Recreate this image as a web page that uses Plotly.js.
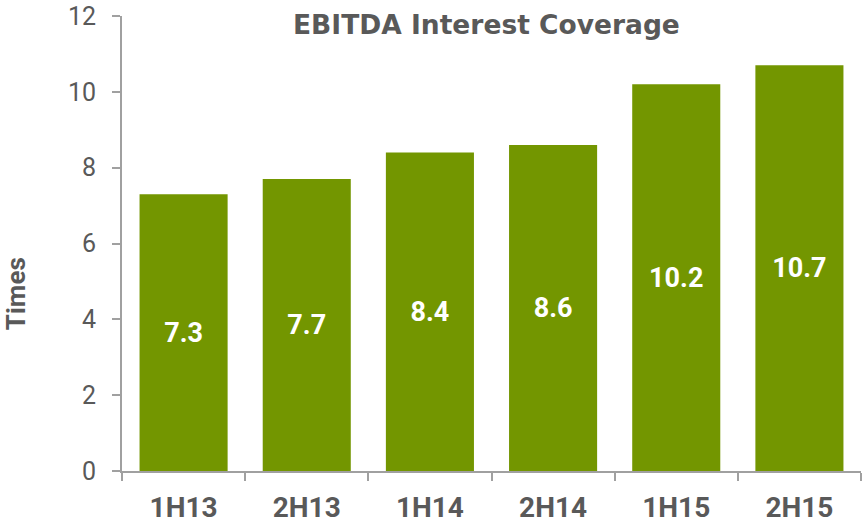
<!DOCTYPE html>
<html>
<head>
<meta charset="utf-8">
<script src="https://cdn.plot.ly/plotly-3.0.1.min.js"></script>
<style>html,body{margin:0;padding:0;background:#fff;}#chart{width:864px;height:523px;}</style>
</head>
<body>
<div id="chart"></div>
<script>
const categories = ["1H13", "2H13", "1H14", "2H14", "1H15", "2H15"];
const coverage = [7.3, 7.7, 8.4, 8.6, 10.2, 10.7];
const labels = ["7.3", "7.7", "8.4", "8.6", "10.2", "10.7"];
const yTicks = [0, 2, 4, 6, 8, 10, 12];

const grey = "#595959";
const axisGrey = "#a0a0a0";

const trace = {
  type: "bar",
  x: categories,
  y: coverage,
  text: labels,
  textposition: "inside",
  insidetextanchor: "middle",
  textangle: 0,
  textfont: {family: "Roboto", size: 27, color: "#ffffff", weight: "bold"},
  marker: {color: "#739600", line: {width: 0}},
  width: 0.715,
  hoverinfo: "none"
};

const layout = {
  width: 864,
  height: 523,
  margin: {l: 122, r: 3, t: 16, b: 52},
  paper_bgcolor: "#ffffff",
  plot_bgcolor: "#ffffff",
  showlegend: false,
  font: {family: "Roboto", color: grey},
  title: {
    text: "<b>EBITDA Interest Coverage</b>",
    font: {family: "DejaVu Sans", size: 26.5, color: grey},
    x: 0.563, xanchor: "center",
    y: 0.952, yanchor: "middle"
  },
  xaxis: {
    type: "category",
    showgrid: false,
    zeroline: false,
    showline: true,
    linecolor: axisGrey,
    linewidth: 2,
    ticks: "outside",
    tickson: "boundaries",
    ticklen: 8,
    tickcolor: axisGrey,
    tickwidth: 2,
    tickfont: {family: "Roboto", size: 28, color: grey, weight: "bold"},
    ticklabelstandoff: 10
  },
  yaxis: {
    range: [0, 12],
    tickvals: yTicks,
    ticktext: yTicks.map(String),
    showgrid: false,
    zeroline: false,
    showline: true,
    linecolor: axisGrey,
    linewidth: 2,
    ticks: "outside",
    ticklen: 8,
    tickcolor: axisGrey,
    tickwidth: 2,
    tickfont: {family: "Roboto", size: 25, color: grey},
    ticklabelstandoff: 11
  },
  annotations: [{
    text: "<b>Times</b>",
    xref: "paper", yref: "paper",
    x: -0.144, y: 0.39,
    xanchor: "center", yanchor: "middle",
    textangle: -90,
    showarrow: false,
    font: {family: "Roboto", size: 26, color: grey}
  }]
};

Plotly.newPlot("chart", [trace], layout, {displayModeBar: false, staticPlot: true});
</script>
</body>
</html>
